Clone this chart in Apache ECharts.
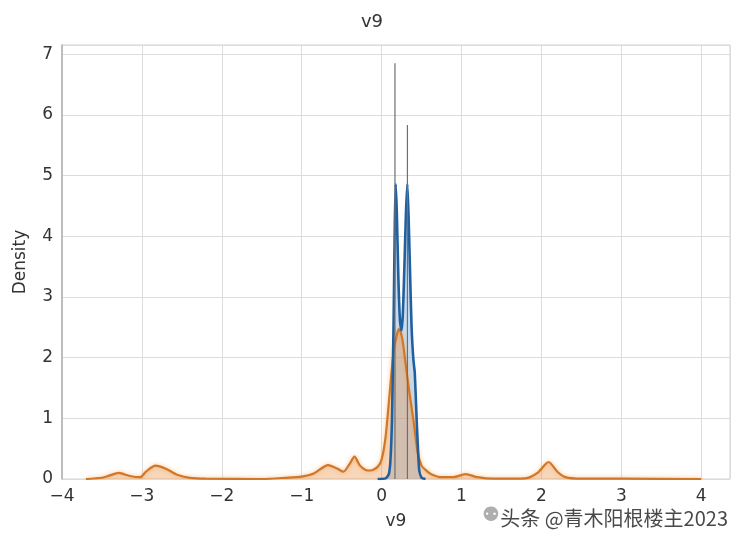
<!DOCTYPE html>
<html>
<head>
<meta charset="utf-8">
<script src="https://cdn.jsdelivr.net/npm/echarts@6/dist/echarts.min.js"></script>
<style>html,body{margin:0;padding:0;background:#fff}#c{width:744px;height:548px}</style>
</head>
<body>
<div id="c"></div>
<script>
// ---- data ----
const titleText = 'v9';
const xLabel = 'v9';
const yLabel = 'Density';
const xTicks = [-4, -3, -2, -1, 0, 1, 2, 3, 4];
const yTicks = [0, 1, 2, 3, 4, 5, 6, 7];

// blue KDE (class 0)
const blueX = [-0.05, 0.05, 0.09, 0.11, 0.13, 0.15, 0.165, 0.176, 0.19, 0.21, 0.23, 0.248, 0.265, 0.285, 0.305, 0.322, 0.338, 0.356, 0.375, 0.398, 0.415, 0.44, 0.47, 0.50, 0.55];
const blueY = [0, 0.01, 0.08, 0.3, 1.0, 2.6, 4.2, 4.86, 4.4, 3.3, 2.6, 2.45, 2.7, 3.5, 4.4, 4.86, 4.3, 3.4, 2.5, 1.96, 1.75, 0.93, 0.15, 0.02, 0];

// blue histogram spikes (very narrow bins)
const spikeX = [0.167, 0.323];
const spikeY = [6.85, 5.83];

// orange KDE (class 1)
const orangeX = [-3.7, -3.5, -3.4, -3.29, -3.15, -3.02, -2.95, -2.83, -2.7, -2.56, -2.4, -2.2, -1.5, -1.2, -1.0, -0.85, -0.67, -0.55, -0.48, -0.4, -0.34, -0.27, -0.2, -0.14, -0.05, 0.0, 0.05, 0.1, 0.15, 0.2, 0.22, 0.26, 0.3, 0.35, 0.4, 0.45, 0.5, 0.55, 0.62, 0.75, 0.9, 1.05, 1.2, 1.4, 1.8, 1.95, 2.09, 2.2, 2.3, 2.5, 3.0, 4.0];
const orangeY = [0, 0.02, 0.06, 0.1, 0.05, 0.03, 0.12, 0.22, 0.17, 0.07, 0.02, 0.005, 0, 0.02, 0.04, 0.09, 0.23, 0.17, 0.12, 0.25, 0.37, 0.22, 0.15, 0.14, 0.2, 0.32, 0.7, 1.4, 2.1, 2.42, 2.47, 2.3, 1.9, 1.4, 0.95, 0.45, 0.22, 0.15, 0.08, 0.03, 0.03, 0.08, 0.03, 0.005, 0.01, 0.1, 0.28, 0.12, 0.03, 0.005, 0.005, 0];

const pair = (xs, ys) => xs.map((x, i) => [x, ys[i]]);
const blueData = pair(blueX, blueY);
const orangeData = pair(orangeX, orangeY);
const spikeData = pair(spikeX, spikeY);

const FONT = 'DejaVu Sans';
const fmt = v => Number.isInteger(v) ? String(v).replace('-', '\u2212') : '';

const chart = echarts.init(document.getElementById('c'), null, {renderer: 'canvas'});
chart.setOption({
  backgroundColor: '#ffffff',
  animation: false,
  title: {
    text: titleText, left: 'center', top: 8,
    textStyle: {fontFamily: FONT, fontSize: 18, fontWeight: 'normal', color: '#333'}
  },
  grid: {left: 62, right: 14, top: 45, bottom: 69, show: true, borderColor: '#d0d0d0', borderWidth: 1, backgroundColor: 'transparent'},
  xAxis: {
    type: 'value', min: -4, max: 4.36, interval: 1,
    name: xLabel, nameLocation: 'middle', nameGap: 34,
    nameTextStyle: {fontFamily: FONT, fontSize: 17, color: '#333'},
    axisLine: {show: false}, axisTick: {show: false},
    axisLabel: {fontFamily: FONT, fontSize: 17, color: '#333', margin: 9, formatter: fmt, showMaxLabel: false},
    splitLine: {show: true, lineStyle: {color: '#dcdcdc', width: 1}}
  },
  yAxis: {
    type: 'value', min: 0, max: 7.15, interval: 1,
    name: yLabel, nameLocation: 'middle', nameGap: 33,
    nameTextStyle: {fontFamily: FONT, fontSize: 17, color: '#333'},
    axisLine: {show: true, onZero: false, lineStyle: {color: '#b0b0b0', width: 1.5}}, axisTick: {show: false},
    axisLabel: {fontFamily: FONT, fontSize: 17, color: '#333', margin: 9, formatter: fmt, showMaxLabel: false},
    splitLine: {show: true, lineStyle: {color: '#dcdcdc', width: 1}}
  },
  series: [
    {type: 'line', name: 'blueFill', data: blueData, smooth: 0.2, symbol: 'none',
     lineStyle: {width: 0}, areaStyle: {color: 'rgba(110,165,215,0.55)'}, z: 1},
    {type: 'line', name: 'orangeFill', data: orangeData, smooth: 0.25, symbol: 'none',
     lineStyle: {width: 0}, areaStyle: {color: 'rgba(232,140,60,0.5)'}, z: 2},
    {type: 'line', name: 'orangeLine', data: orangeData, smooth: 0.25, symbol: 'none',
     lineStyle: {width: 2.2, color: '#d0772a', shadowColor: 'rgba(245,160,70,0.7)', shadowBlur: 4}, z: 3},
    {type: 'line', name: 'blueLine', data: blueData, smooth: 0.2, symbol: 'none',
     lineStyle: {width: 2.6, color: '#21609f'}, z: 4},
    {type: 'bar', name: 'spikes', data: spikeData, barWidth: 1.2,
     itemStyle: {color: '#6a6f78'}, z: 5}
  ],
  graphic: [
    {type: 'text', right: 16, top: 508, z: 100,
     style: {text: '头条 @青木阳根楼主2023', font: '20px "Noto Sans CJK SC"', fill: 'rgba(40,40,40,0.85)'}},
    {type: 'text', left: 482, top: 506, z: 99,
     style: {text: '\u2689', font: '20px "DejaVu Sans"', fill: 'rgba(120,120,120,0.6)'}}
  ]
});
</script>
</body>
</html>
